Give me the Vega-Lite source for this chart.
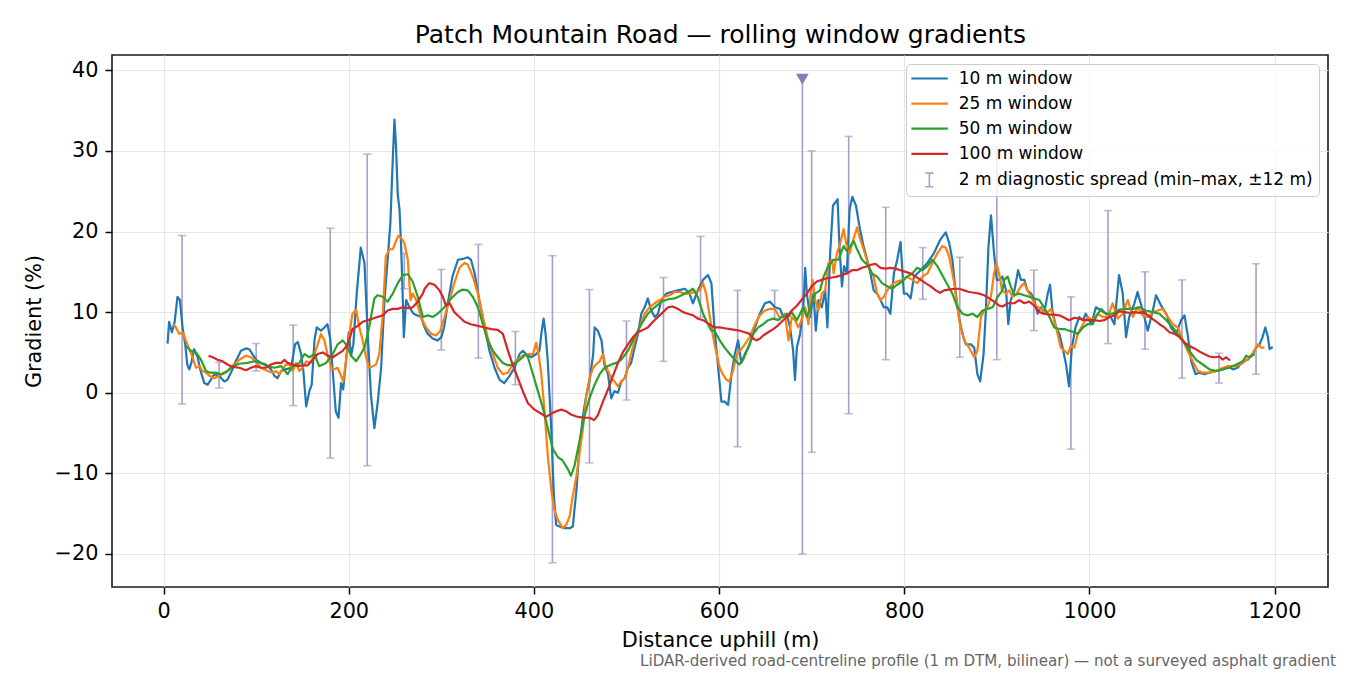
{
  "$schema": "https://vega.github.io/schema/vega-lite/v6.json",
  "width": 1216,
  "height": 532,
  "autosize": {"type": "none"},
  "padding": {"left": 112, "top": 55, "right": 22, "bottom": 88},
  "background": "white",
  "title": {
    "text": "LiDAR-derived road-centreline profile (1 m DTM, bilinear) — not a surveyed asphalt gradient",
    "orient": "bottom", "anchor": "end", "frame": "group", "dx": 8, "offset": 15,
    "baseline": "alphabetic", "font": "DejaVu Sans", "fontSize": 15.1, "fontWeight": "normal", "color": "#666666"
  },
  "config": {
    "font": "DejaVu Sans",
    "view": {"stroke": "#1a1a1a", "strokeWidth": 1.6},
    "axis": {
      "labelFont": "DejaVu Sans", "labelFontSize": 20.8, "labelColor": "#000000",
      "titleFont": "DejaVu Sans", "titleFontSize": 20.8, "titleFontWeight": "normal", "titleColor": "#000000",
      "tickColor": "#000000", "tickSize": 7, "tickWidth": 1.5, "labelPadding": 7,
      "gridColor": "#e6e6e6", "gridWidth": 1.2, "domain": false, "labelOverlap": false, "labelFlush": false
    },
    "legend": {
      "labelFont": "DejaVu Sans", "labelFontSize": 17, "labelColor": "#000000"
    }
  },
  "datasets": {
    "eb": [
      {"s":"e","d":20,"lo":-1.4,"hi":19.5},{"s":"e","d":60,"lo":0.6,"hi":3.8},{"s":"e","d":100,"lo":2.7,"hi":6.1},
      {"s":"e","d":140,"lo":-1.6,"hi":8.4},{"s":"e","d":180,"lo":-8.1,"hi":20.4},{"s":"e","d":220,"lo":-9.05,"hi":29.6},
      {"s":"e","d":260,"lo":12.9,"hi":17.3},{"s":"e","d":300,"lo":5.3,"hi":15.3},{"s":"e","d":340,"lo":4.3,"hi":18.4},
      {"s":"e","d":380,"lo":1.0,"hi":7.6},{"s":"e","d":420,"lo":-21.1,"hi":17.0},{"s":"e","d":460,"lo":-8.7,"hi":12.8},
      {"s":"e","d":500,"lo":-0.9,"hi":8.9},{"s":"e","d":540,"lo":3.9,"hi":14.3},{"s":"e","d":580,"lo":9.4,"hi":19.4},
      {"s":"e","d":620,"lo":-6.7,"hi":12.7},{"s":"e","d":660,"lo":9.2,"hi":12.7},{"s":"e","d":690,"lo":-20.0,"hi":38.9},
      {"s":"e","d":700,"lo":-7.4,"hi":30.0},{"s":"e","d":740,"lo":-2.6,"hi":31.8},{"s":"e","d":780,"lo":4.1,"hi":23.0},
      {"s":"e","d":820,"lo":11.6,"hi":18.0},{"s":"e","d":860,"lo":4.4,"hi":16.8},{"s":"e","d":900,"lo":4.1,"hi":30.5},
      {"s":"e","d":940,"lo":7.7,"hi":15.2},{"s":"e","d":980,"lo":-7.0,"hi":11.9},{"s":"e","d":1020,"lo":6.1,"hi":22.6},
      {"s":"e","d":1060,"lo":5.4,"hi":15.0},{"s":"e","d":1100,"lo":1.8,"hi":14.0},{"s":"e","d":1140,"lo":1.2,"hi":4.9},
      {"s":"e","d":1180,"lo":2.3,"hi":16.0}
    ],
    "spike": [{"d": 690, "g": 38.9}],
    "lines": [
      {"s":"a","d":4.3,"g":6.1},{"s":"a","d":6,"g":8.8},{"s":"a","d":9,"g":7.5},{"s":"a","d":12,"g":8.8},{"s":"a","d":15,"g":11.9},
      {"s":"a","d":17.7,"g":11.5},{"s":"a","d":20.5,"g":8.1},{"s":"a","d":23.4,"g":6.0},{"s":"a","d":25.6,"g":3.5},{"s":"a","d":27.7,"g":2.9},
      {"s":"a","d":30,"g":3.7},{"s":"a","d":33,"g":5.4},{"s":"a","d":36.8,"g":4.4},{"s":"a","d":40,"g":2.7},{"s":"a","d":44,"g":1.2},
      {"s":"a","d":47.6,"g":1.0},{"s":"a","d":51,"g":1.6},{"s":"a","d":54.8,"g":2.3},{"s":"a","d":60,"g":2.1},{"s":"a","d":65.6,"g":1.4},
      {"s":"a","d":69,"g":1.6},{"s":"a","d":72.8,"g":2.5},{"s":"a","d":78,"g":3.9},{"s":"a","d":83.6,"g":5.2},{"s":"a","d":89,"g":5.5},
      {"s":"a","d":92.6,"g":5.4},{"s":"a","d":96,"g":4.8},{"s":"a","d":99.8,"g":4.1},{"s":"a","d":105,"g":3.7},{"s":"a","d":110.6,"g":3.5},
      {"s":"a","d":116,"g":2.9},{"s":"a","d":119.6,"g":2.1},{"s":"a","d":123,"g":1.8},{"s":"a","d":127,"g":2.7},{"s":"a","d":132,"g":2.9},
      {"s":"a","d":137.7,"g":3.1},{"s":"a","d":142,"g":6.0},{"s":"a","d":145,"g":6.3},{"s":"a","d":148.5,"g":4.8},{"s":"a","d":151,"g":2.7},
      {"s":"a","d":154,"g":-1.7},{"s":"a","d":157.5,"g":0.2},{"s":"a","d":160,"g":1.0},{"s":"a","d":163,"g":6.5},{"s":"a","d":165.4,"g":8.1},
      {"s":"a","d":170,"g":7.7},{"s":"a","d":173.7,"g":8.1},{"s":"a","d":177,"g":8.5},{"s":"a","d":180,"g":6.7},{"s":"a","d":182.7,"g":2.7},
      {"s":"a","d":186,"g":-2.3},{"s":"a","d":189,"g":-3.1},{"s":"a","d":191.7,"g":1.2},{"s":"a","d":194,"g":0.4},{"s":"a","d":197,"g":3.9},
      {"s":"a","d":200,"g":7.5},{"s":"a","d":202.5,"g":4.6},{"s":"a","d":205,"g":6.0},{"s":"a","d":208.6,"g":12.3},{"s":"a","d":213,"g":18.0},
      {"s":"a","d":217,"g":16.1},{"s":"a","d":220.5,"g":7.3},{"s":"a","d":224,"g":-0.3},{"s":"a","d":227.7,"g":-4.4},{"s":"a","d":231,"g":-1.5},
      {"s":"a","d":235,"g":3.1},{"s":"a","d":238.6,"g":11.5},{"s":"a","d":242,"g":16.5},{"s":"a","d":245,"g":21.1},{"s":"a","d":247.6,"g":29.1},
      {"s":"a","d":249.4,"g":33.9},{"s":"a","d":251,"g":30.7},{"s":"a","d":253,"g":24.5},{"s":"a","d":254.8,"g":22.8},{"s":"a","d":256.6,"g":18.2},
      {"s":"a","d":258.4,"g":11.5},{"s":"a","d":259.5,"g":6.9},{"s":"a","d":262,"g":11.5},{"s":"a","d":266,"g":10.5},{"s":"a","d":270,"g":9.8},
      {"s":"a","d":278,"g":9.4},{"s":"a","d":282,"g":8.1},{"s":"a","d":285.4,"g":7.3},{"s":"a","d":291,"g":6.7},{"s":"a","d":296,"g":6.5},
      {"s":"a","d":300,"g":6.9},{"s":"a","d":303,"g":8.1},{"s":"a","d":307,"g":11.1},{"s":"a","d":312,"g":14.4},{"s":"a","d":318,"g":16.5},
      {"s":"a","d":323,"g":16.6},{"s":"a","d":328.6,"g":16.8},{"s":"a","d":332,"g":16.5},{"s":"a","d":336,"g":14.8},{"s":"a","d":341,"g":11.5},
      {"s":"a","d":346.7,"g":8.1},{"s":"a","d":352,"g":5.2},{"s":"a","d":357.5,"g":3.1},{"s":"a","d":363,"g":1.6},{"s":"a","d":368,"g":1.2},
      {"s":"a","d":373.7,"g":2.1},{"s":"a","d":379,"g":3.1},{"s":"a","d":384.5,"g":4.8},{"s":"a","d":388,"g":5.2},{"s":"a","d":391.7,"g":4.8},
      {"s":"a","d":397,"g":4.4},{"s":"a","d":402.5,"g":4.8},{"s":"a","d":406,"g":5.2},{"s":"a","d":408,"g":7.3},{"s":"a","d":410.5,"g":9.2},
      {"s":"a","d":412.6,"g":7.3},{"s":"a","d":415,"g":3.9},{"s":"a","d":418.7,"g":-4.4},{"s":"a","d":421.6,"g":-12.8},{"s":"a","d":424,"g":-16.4},
      {"s":"a","d":427.7,"g":-16.6},{"s":"a","d":433,"g":-16.8},{"s":"a","d":438.6,"g":-16.8},{"s":"a","d":442,"g":-16.6},{"s":"a","d":446,"g":-12.0},
      {"s":"a","d":449,"g":-7.0},{"s":"a","d":453,"g":-2.8},{"s":"a","d":456.6,"g":-0.3},{"s":"a","d":460,"g":1.4},{"s":"a","d":464,"g":4.8},
      {"s":"a","d":465.6,"g":8.1},{"s":"a","d":469,"g":7.7},{"s":"a","d":473,"g":6.5},{"s":"a","d":476,"g":3.5},{"s":"a","d":480,"g":2.3},
      {"s":"a","d":483.6,"g":-0.7},{"s":"a","d":487,"g":0.2},{"s":"a","d":490.8,"g":0.0},{"s":"a","d":494.4,"g":1.4},{"s":"a","d":498,"g":1.8},
      {"s":"a","d":501.6,"g":3.1},{"s":"a","d":505,"g":3.7},{"s":"a","d":508.8,"g":5.6},{"s":"a","d":512.4,"g":7.3},{"s":"a","d":516,"g":9.8},
      {"s":"a","d":519.6,"g":10.6},{"s":"a","d":523,"g":11.7},{"s":"a","d":526.8,"g":10.2},{"s":"a","d":530.5,"g":9.4},{"s":"a","d":534,"g":9.8},
      {"s":"a","d":537.7,"g":11.5},{"s":"a","d":543,"g":12.3},{"s":"a","d":548.5,"g":12.5},{"s":"a","d":555.7,"g":12.7},{"s":"a","d":563,"g":12.9},
      {"s":"a","d":568,"g":12.3},{"s":"a","d":571.8,"g":11.1},{"s":"a","d":577,"g":12.7},{"s":"a","d":582.6,"g":14.0},{"s":"a","d":588,"g":14.6},
      {"s":"a","d":591.7,"g":13.6},{"s":"a","d":595,"g":8.1},{"s":"a","d":599,"g":3.1},{"s":"a","d":602.5,"g":-1.1},{"s":"a","d":606,"g":-1.1},
      {"s":"a","d":609.8,"g":-1.5},{"s":"a","d":613.4,"g":2.3},{"s":"a","d":617,"g":4.8},{"s":"a","d":620.6,"g":6.5},{"s":"a","d":624,"g":3.7},
      {"s":"a","d":627.8,"g":4.8},{"s":"a","d":633,"g":6.0},{"s":"a","d":638.7,"g":8.1},{"s":"a","d":644,"g":9.8},{"s":"a","d":649.5,"g":11.1},
      {"s":"a","d":655,"g":11.3},{"s":"a","d":660.4,"g":10.6},{"s":"a","d":665.8,"g":10.4},{"s":"a","d":669.4,"g":9.4},{"s":"a","d":673,"g":9.8},
      {"s":"a","d":676.7,"g":8.1},{"s":"a","d":680,"g":5.2},{"s":"a","d":682,"g":1.6},{"s":"a","d":684,"g":5.6},{"s":"a","d":687.5,"g":7.3},
      {"s":"a","d":691,"g":10.6},{"s":"a","d":693,"g":15.5},{"s":"a","d":694.8,"g":12.3},{"s":"a","d":698.4,"g":9.4},{"s":"a","d":702,"g":12.3},
      {"s":"a","d":704.5,"g":7.7},{"s":"a","d":707.4,"g":11.5},{"s":"a","d":711,"g":10.6},{"s":"a","d":714.6,"g":12.7},{"s":"a","d":717,"g":8.1},
      {"s":"a","d":720,"g":17.3},{"s":"a","d":723,"g":23.2},{"s":"a","d":725.5,"g":23.6},{"s":"a","d":728,"g":24.0},{"s":"a","d":730,"g":18.2},
      {"s":"a","d":732.7,"g":13.2},{"s":"a","d":735,"g":15.7},{"s":"a","d":738,"g":14.8},{"s":"a","d":741,"g":22.8},{"s":"a","d":744,"g":24.3},
      {"s":"a","d":747.9,"g":23.2},{"s":"a","d":751.5,"g":20.7},{"s":"a","d":756,"g":18.2},{"s":"a","d":760,"g":16.5},{"s":"a","d":763.5,"g":14.8},
      {"s":"a","d":767,"g":12.7},{"s":"a","d":770.7,"g":12.3},{"s":"a","d":774.3,"g":11.5},{"s":"a","d":778,"g":10.6},{"s":"a","d":781.6,"g":10.6},
      {"s":"a","d":785,"g":9.8},{"s":"a","d":788.8,"g":14.8},{"s":"a","d":792.4,"g":16.5},{"s":"a","d":796,"g":18.7},{"s":"a","d":799.6,"g":12.3},
      {"s":"a","d":803,"g":12.3},{"s":"a","d":806.9,"g":11.7},{"s":"a","d":810.5,"g":14.4},{"s":"a","d":817.7,"g":15.2},{"s":"a","d":825,"g":16.1},
      {"s":"a","d":832,"g":17.3},{"s":"a","d":839,"g":19.0},{"s":"a","d":844.8,"g":19.9},{"s":"a","d":848.5,"g":18.6},{"s":"a","d":852,"g":16.5},
      {"s":"a","d":855.7,"g":12.3},{"s":"a","d":859,"g":9.4},{"s":"a","d":863,"g":7.3},{"s":"a","d":866.5,"g":6.0},{"s":"a","d":872,"g":6.0},
      {"s":"a","d":875.6,"g":5.6},{"s":"a","d":879,"g":2.3},{"s":"a","d":882,"g":1.4},{"s":"a","d":885.7,"g":4.8},{"s":"a","d":888,"g":9.8},
      {"s":"a","d":891,"g":18.2},{"s":"a","d":893.7,"g":22.0},{"s":"a","d":897,"g":17.3},{"s":"a","d":900,"g":14.0},{"s":"a","d":902.7,"g":14.0},
      {"s":"a","d":906,"g":14.4},{"s":"a","d":910,"g":12.7},{"s":"a","d":912.4,"g":8.5},{"s":"a","d":915,"g":11.5},{"s":"a","d":919,"g":12.7},
      {"s":"a","d":923,"g":15.2},{"s":"a","d":926,"g":14.0},{"s":"a","d":929.7,"g":14.0},{"s":"a","d":933,"g":12.7},{"s":"a","d":937,"g":12.3},
      {"s":"a","d":940.5,"g":11.5},{"s":"a","d":944,"g":9.8},{"s":"a","d":947.7,"g":10.6},{"s":"a","d":951,"g":9.8},{"s":"a","d":955,"g":12.3},
      {"s":"a","d":957.5,"g":13.4},{"s":"a","d":960,"g":10.2},{"s":"a","d":964,"g":8.1},{"s":"a","d":967.6,"g":7.3},{"s":"a","d":971,"g":5.6},
      {"s":"a","d":974.8,"g":3.5},{"s":"a","d":978,"g":0.8},{"s":"a","d":981,"g":5.6},{"s":"a","d":985,"g":8.1},{"s":"a","d":989,"g":9.4},
      {"s":"a","d":993,"g":9.0},{"s":"a","d":996,"g":9.8},{"s":"a","d":1002,"g":8.5},{"s":"a","d":1007,"g":10.6},{"s":"a","d":1012.6,"g":10.2},
      {"s":"a","d":1018,"g":9.8},{"s":"a","d":1023,"g":9.4},{"s":"a","d":1027,"g":8.5},{"s":"a","d":1032,"g":14.6},{"s":"a","d":1036,"g":12.3},
      {"s":"a","d":1039.6,"g":6.9},{"s":"a","d":1043,"g":9.4},{"s":"a","d":1048.6,"g":11.1},{"s":"a","d":1052,"g":12.5},{"s":"a","d":1057.6,"g":10.2},
      {"s":"a","d":1063,"g":7.7},{"s":"a","d":1068.5,"g":10.2},{"s":"a","d":1072,"g":12.1},{"s":"a","d":1077.5,"g":10.8},{"s":"a","d":1083,"g":9.8},
      {"s":"a","d":1088,"g":8.1},{"s":"a","d":1093.7,"g":7.3},{"s":"a","d":1099,"g":9.0},{"s":"a","d":1102.7,"g":9.6},{"s":"a","d":1106,"g":7.3},
      {"s":"a","d":1110,"g":3.9},{"s":"a","d":1114.6,"g":2.3},{"s":"a","d":1119,"g":2.5},{"s":"a","d":1124,"g":2.3},{"s":"a","d":1129.7,"g":2.5},
      {"s":"a","d":1137,"g":2.7},{"s":"a","d":1144,"g":2.9},{"s":"a","d":1149.5,"g":3.3},{"s":"a","d":1155,"g":2.9},{"s":"a","d":1160,"g":3.1},
      {"s":"a","d":1165.8,"g":3.9},{"s":"a","d":1171,"g":4.1},{"s":"a","d":1176.6,"g":4.8},{"s":"a","d":1180,"g":5.6},{"s":"a","d":1183.8,"g":6.0},
      {"s":"a","d":1187,"g":6.9},{"s":"a","d":1190,"g":8.1},{"s":"a","d":1192.8,"g":6.9},{"s":"a","d":1194.6,"g":5.4},{"s":"a","d":1198,"g":5.7},

      {"s":"b","d":10.8,"g":8.5},{"s":"b","d":13.3,"g":8.1},{"s":"b","d":17,"g":7.3},{"s":"b","d":20.5,"g":7.5},{"s":"b","d":24,"g":6.5},
      {"s":"b","d":28.5,"g":5.2},{"s":"b","d":31.4,"g":4.4},{"s":"b","d":35,"g":3.1},{"s":"b","d":39,"g":3.3},{"s":"b","d":42,"g":2.7},
      {"s":"b","d":45.8,"g":2.5},{"s":"b","d":49.4,"g":2.1},{"s":"b","d":54.8,"g":1.8},{"s":"b","d":60,"g":2.1},{"s":"b","d":67.4,"g":2.5},
      {"s":"b","d":74.6,"g":3.3},{"s":"b","d":81.8,"g":4.1},{"s":"b","d":89,"g":4.6},{"s":"b","d":94.4,"g":4.4},{"s":"b","d":99.8,"g":3.9},
      {"s":"b","d":105,"g":3.1},{"s":"b","d":112.4,"g":2.7},{"s":"b","d":117.8,"g":2.5},{"s":"b","d":121.4,"g":2.7},{"s":"b","d":125,"g":2.3},
      {"s":"b","d":128.6,"g":2.9},{"s":"b","d":132,"g":3.5},{"s":"b","d":135.9,"g":3.5},{"s":"b","d":139.5,"g":2.7},{"s":"b","d":143,"g":3.7},
      {"s":"b","d":146.7,"g":2.7},{"s":"b","d":150,"g":3.1},{"s":"b","d":154,"g":3.9},{"s":"b","d":159,"g":3.7},{"s":"b","d":163,"g":4.8},
      {"s":"b","d":166.5,"g":6.0},{"s":"b","d":170,"g":7.3},{"s":"b","d":173.7,"g":6.5},{"s":"b","d":177,"g":4.8},{"s":"b","d":181,"g":3.1},
      {"s":"b","d":184.5,"g":2.9},{"s":"b","d":188,"g":3.1},{"s":"b","d":191.7,"g":2.1},{"s":"b","d":194,"g":1.4},{"s":"b","d":197,"g":3.9},
      {"s":"b","d":200.7,"g":7.3},{"s":"b","d":204,"g":9.8},{"s":"b","d":208,"g":10.3},{"s":"b","d":211.5,"g":8.1},{"s":"b","d":215,"g":6.5},
      {"s":"b","d":218.7,"g":4.4},{"s":"b","d":222,"g":3.1},{"s":"b","d":226,"g":3.3},{"s":"b","d":229.5,"g":3.5},{"s":"b","d":233,"g":4.8},
      {"s":"b","d":236.8,"g":9.8},{"s":"b","d":240,"g":16.9},{"s":"b","d":244,"g":17.8},{"s":"b","d":247.6,"g":17.8},{"s":"b","d":251,"g":18.8},
      {"s":"b","d":253.7,"g":19.5},{"s":"b","d":256.6,"g":19.2},{"s":"b","d":260,"g":18.6},{"s":"b","d":263.8,"g":16.5},{"s":"b","d":266.7,"g":11.5},
      {"s":"b","d":269,"g":12.3},{"s":"b","d":272.8,"g":11.5},{"s":"b","d":278,"g":9.4},{"s":"b","d":283.6,"g":8.1},{"s":"b","d":289,"g":7.3},
      {"s":"b","d":294.4,"g":7.1},{"s":"b","d":299,"g":7.7},{"s":"b","d":303.4,"g":9.4},{"s":"b","d":309,"g":11.5},{"s":"b","d":314,"g":13.6},
      {"s":"b","d":319.6,"g":15.5},{"s":"b","d":325,"g":16.1},{"s":"b","d":328.6,"g":15.9},{"s":"b","d":334,"g":14.4},{"s":"b","d":339.5,"g":12.3},
      {"s":"b","d":344.9,"g":9.4},{"s":"b","d":350,"g":6.9},{"s":"b","d":355.7,"g":4.8},{"s":"b","d":361,"g":3.1},{"s":"b","d":366.5,"g":2.3},
      {"s":"b","d":372,"g":2.5},{"s":"b","d":377,"g":3.5},{"s":"b","d":382.7,"g":4.1},{"s":"b","d":388,"g":4.6},{"s":"b","d":393.5,"g":4.8},
      {"s":"b","d":399,"g":4.8},{"s":"b","d":402.5,"g":6.2},{"s":"b","d":405,"g":4.8},{"s":"b","d":408,"g":2.3},{"s":"b","d":411.5,"g":-2.3},
      {"s":"b","d":415,"g":-7.8},{"s":"b","d":418.7,"g":-12.0},{"s":"b","d":422,"g":-14.5},{"s":"b","d":426,"g":-15.8},{"s":"b","d":431,"g":-16.8},
      {"s":"b","d":435,"g":-16.4},{"s":"b","d":438.6,"g":-15.3},{"s":"b","d":442,"g":-12.8},{"s":"b","d":446,"g":-10.3},{"s":"b","d":449,"g":-7.8},
      {"s":"b","d":453,"g":-4.4},{"s":"b","d":456.6,"g":-0.3},{"s":"b","d":460,"g":1.8},{"s":"b","d":464,"g":3.1},{"s":"b","d":467,"g":3.5},
      {"s":"b","d":471,"g":3.9},{"s":"b","d":474.6,"g":4.8},{"s":"b","d":477,"g":3.5},{"s":"b","d":480,"g":2.7},{"s":"b","d":483.6,"g":1.8},
      {"s":"b","d":487,"g":1.4},{"s":"b","d":490.8,"g":0.8},{"s":"b","d":494.4,"g":1.4},{"s":"b","d":498,"g":1.8},{"s":"b","d":501.6,"g":3.1},
      {"s":"b","d":505,"g":4.8},{"s":"b","d":508.8,"g":6.5},{"s":"b","d":514,"g":8.1},{"s":"b","d":519.6,"g":9.8},{"s":"b","d":525,"g":10.6},
      {"s":"b","d":530.5,"g":11.1},{"s":"b","d":535.9,"g":11.5},{"s":"b","d":541,"g":11.9},{"s":"b","d":546.7,"g":12.1},{"s":"b","d":552,"g":12.5},
      {"s":"b","d":557.5,"g":12.5},{"s":"b","d":563,"g":12.3},{"s":"b","d":568,"g":12.3},{"s":"b","d":573.6,"g":12.5},{"s":"b","d":579,"g":12.7},
      {"s":"b","d":582.6,"g":13.6},{"s":"b","d":586,"g":12.3},{"s":"b","d":590,"g":9.4},{"s":"b","d":595,"g":6.0},{"s":"b","d":600.7,"g":3.1},
      {"s":"b","d":604,"g":2.3},{"s":"b","d":608,"g":1.6},{"s":"b","d":611,"g":1.4},{"s":"b","d":615,"g":2.7},{"s":"b","d":619,"g":4.8},
      {"s":"b","d":624,"g":5.4},{"s":"b","d":627.8,"g":6.0},{"s":"b","d":633,"g":6.9},{"s":"b","d":638.7,"g":8.5},{"s":"b","d":644,"g":9.6},
      {"s":"b","d":649.5,"g":10.2},{"s":"b","d":655,"g":10.4},{"s":"b","d":660.4,"g":10.4},{"s":"b","d":665.8,"g":9.2},{"s":"b","d":671,"g":9.8},
      {"s":"b","d":675,"g":6.5},{"s":"b","d":678.5,"g":9.4},{"s":"b","d":682,"g":9.0},{"s":"b","d":685.7,"g":8.1},{"s":"b","d":689,"g":9.0},
      {"s":"b","d":693,"g":10.6},{"s":"b","d":696.6,"g":8.5},{"s":"b","d":699,"g":12.3},{"s":"b","d":701,"g":14.0},{"s":"b","d":703.8,"g":11.5},
      {"s":"b","d":707.4,"g":10.2},{"s":"b","d":711,"g":12.3},{"s":"b","d":714.6,"g":12.7},{"s":"b","d":718,"g":16.1},{"s":"b","d":722,"g":16.5},
      {"s":"b","d":723.7,"g":14.8},{"s":"b","d":727.3,"g":17.3},{"s":"b","d":731,"g":18.6},{"s":"b","d":734.5,"g":20.3},{"s":"b","d":737.4,"g":18.4},
      {"s":"b","d":741,"g":17.3},{"s":"b","d":745,"g":19.0},{"s":"b","d":749,"g":20.5},{"s":"b","d":752.6,"g":19.0},{"s":"b","d":756,"g":17.8},
      {"s":"b","d":761.7,"g":15.7},{"s":"b","d":767,"g":14.4},{"s":"b","d":770.7,"g":12.3},{"s":"b","d":774.3,"g":11.5},{"s":"b","d":778,"g":11.9},
      {"s":"b","d":781.6,"g":12.7},{"s":"b","d":785,"g":13.2},{"s":"b","d":788.8,"g":13.6},{"s":"b","d":792.4,"g":13.8},{"s":"b","d":797.8,"g":14.0},
      {"s":"b","d":803,"g":14.4},{"s":"b","d":808.7,"g":14.0},{"s":"b","d":814,"g":13.6},{"s":"b","d":819.5,"g":14.4},{"s":"b","d":825,"g":14.8},
      {"s":"b","d":830.4,"g":16.1},{"s":"b","d":835.8,"g":17.3},{"s":"b","d":841,"g":18.2},{"s":"b","d":844.8,"g":18.0},{"s":"b","d":848.5,"g":16.9},
      {"s":"b","d":854,"g":13.6},{"s":"b","d":859.3,"g":9.0},{"s":"b","d":864.7,"g":6.5},{"s":"b","d":870,"g":5.6},{"s":"b","d":875.6,"g":4.4},
      {"s":"b","d":879,"g":5.2},{"s":"b","d":882.8,"g":9.4},{"s":"b","d":886.4,"g":10.2},{"s":"b","d":890,"g":10.6},{"s":"b","d":893.7,"g":12.0},
      {"s":"b","d":897,"g":14.8},{"s":"b","d":899.5,"g":16.1},{"s":"b","d":902.5,"g":14.8},{"s":"b","d":905.6,"g":12.7},{"s":"b","d":910,"g":12.3},
      {"s":"b","d":913.5,"g":12.7},{"s":"b","d":917,"g":11.9},{"s":"b","d":921.4,"g":12.3},{"s":"b","d":926,"g":13.2},{"s":"b","d":929.7,"g":13.6},
      {"s":"b","d":933,"g":12.7},{"s":"b","d":937,"g":11.9},{"s":"b","d":942,"g":10.8},{"s":"b","d":947.7,"g":10.4},{"s":"b","d":953,"g":9.8},
      {"s":"b","d":958.6,"g":10.4},{"s":"b","d":964,"g":8.1},{"s":"b","d":969,"g":5.6},{"s":"b","d":973,"g":5.2},{"s":"b","d":976.6,"g":4.8},
      {"s":"b","d":980,"g":5.8},{"s":"b","d":983.8,"g":5.6},{"s":"b","d":987.4,"g":7.3},{"s":"b","d":993,"g":8.5},{"s":"b","d":998,"g":9.4},
      {"s":"b","d":1003.6,"g":9.0},{"s":"b","d":1009,"g":9.8},{"s":"b","d":1014.4,"g":9.4},{"s":"b","d":1020,"g":9.4},{"s":"b","d":1025,"g":11.1},
      {"s":"b","d":1030.6,"g":9.2},{"s":"b","d":1036,"g":9.8},{"s":"b","d":1041.4,"g":11.5},{"s":"b","d":1047,"g":9.4},{"s":"b","d":1052,"g":10.6},
      {"s":"b","d":1057.6,"g":9.6},{"s":"b","d":1063,"g":9.4},{"s":"b","d":1068.5,"g":10.0},{"s":"b","d":1074,"g":10.2},{"s":"b","d":1079,"g":10.4},
      {"s":"b","d":1084.7,"g":9.4},{"s":"b","d":1090,"g":8.5},{"s":"b","d":1095.5,"g":8.1},{"s":"b","d":1101,"g":6.5},{"s":"b","d":1106,"g":5.2},
      {"s":"b","d":1111.7,"g":3.9},{"s":"b","d":1117,"g":2.7},{"s":"b","d":1122.5,"g":2.5},{"s":"b","d":1129.7,"g":2.5},{"s":"b","d":1137,"g":2.7},
      {"s":"b","d":1144,"g":3.1},{"s":"b","d":1151,"g":3.3},{"s":"b","d":1158.6,"g":3.3},{"s":"b","d":1165.8,"g":3.7},{"s":"b","d":1173,"g":4.4},
      {"s":"b","d":1178,"g":5.2},{"s":"b","d":1182,"g":6.0},{"s":"b","d":1185.6,"g":5.6},{"s":"b","d":1189,"g":5.6},

      {"s":"c","d":24,"g":5.8},{"s":"c","d":29.5,"g":5.2},{"s":"c","d":35,"g":5.0},{"s":"c","d":40.4,"g":4.1},{"s":"c","d":45.8,"g":2.7},
      {"s":"c","d":49.4,"g":2.5},{"s":"c","d":56.6,"g":2.5},{"s":"c","d":62,"g":2.3},{"s":"c","d":69,"g":2.7},{"s":"c","d":74.6,"g":3.3},
      {"s":"c","d":81.8,"g":3.6},{"s":"c","d":90.8,"g":3.7},{"s":"c","d":98,"g":3.9},{"s":"c","d":105,"g":3.7},{"s":"c","d":112.4,"g":3.3},
      {"s":"c","d":119.6,"g":3.1},{"s":"c","d":127,"g":3.3},{"s":"c","d":134,"g":2.3},{"s":"c","d":139.5,"g":3.3},{"s":"c","d":146.7,"g":3.7},
      {"s":"c","d":152,"g":4.8},{"s":"c","d":157.5,"g":4.4},{"s":"c","d":163,"g":4.8},{"s":"c","d":168,"g":3.3},{"s":"c","d":175.5,"g":3.7},
      {"s":"c","d":182.7,"g":4.8},{"s":"c","d":188,"g":6.0},{"s":"c","d":193.5,"g":6.5},{"s":"c","d":197,"g":6.0},{"s":"c","d":202.5,"g":4.6},
      {"s":"c","d":208,"g":3.9},{"s":"c","d":213,"g":4.8},{"s":"c","d":217,"g":5.6},{"s":"c","d":222,"g":8.1},{"s":"c","d":227.7,"g":11.7},
      {"s":"c","d":231,"g":12.1},{"s":"c","d":236.8,"g":11.9},{"s":"c","d":242,"g":11.3},{"s":"c","d":247.6,"g":12.3},{"s":"c","d":253,"g":13.6},
      {"s":"c","d":258.4,"g":14.6},{"s":"c","d":264,"g":14.7},{"s":"c","d":269,"g":13.8},{"s":"c","d":274.6,"g":11.9},{"s":"c","d":280,"g":9.4},
      {"s":"c","d":285.4,"g":9.6},{"s":"c","d":291,"g":9.4},{"s":"c","d":296,"g":9.8},{"s":"c","d":303.4,"g":10.6},{"s":"c","d":310.6,"g":11.7},
      {"s":"c","d":318,"g":12.5},{"s":"c","d":323,"g":12.8},{"s":"c","d":328.6,"g":12.7},{"s":"c","d":334,"g":11.9},{"s":"c","d":339.5,"g":10.6},
      {"s":"c","d":344.9,"g":8.5},{"s":"c","d":350,"g":6.5},{"s":"c","d":355.7,"g":5.2},{"s":"c","d":361,"g":4.4},{"s":"c","d":366.5,"g":3.7},
      {"s":"c","d":372,"g":3.4},{"s":"c","d":377,"g":3.5},{"s":"c","d":382.7,"g":3.9},{"s":"c","d":388,"g":4.4},{"s":"c","d":390.6,"g":4.8},
      {"s":"c","d":393.5,"g":4.4},{"s":"c","d":399,"g":2.3},{"s":"c","d":404.3,"g":0.2},{"s":"c","d":409.7,"g":-1.9},{"s":"c","d":415,"g":-4.4},
      {"s":"c","d":420.5,"g":-7.0},{"s":"c","d":426,"g":-8.0},{"s":"c","d":431,"g":-8.4},{"s":"c","d":436.8,"g":-9.5},{"s":"c","d":440,"g":-10.3},
      {"s":"c","d":444,"g":-9.0},{"s":"c","d":449,"g":-6.1},{"s":"c","d":454.8,"g":-2.8},{"s":"c","d":460,"g":-0.7},{"s":"c","d":465.6,"g":1.0},
      {"s":"c","d":471,"g":2.3},{"s":"c","d":476.4,"g":3.1},{"s":"c","d":483.6,"g":3.5},{"s":"c","d":489,"g":3.7},{"s":"c","d":494.4,"g":4.1},
      {"s":"c","d":501.6,"g":5.2},{"s":"c","d":508.8,"g":6.9},{"s":"c","d":516,"g":8.5},{"s":"c","d":523,"g":9.8},{"s":"c","d":530.5,"g":10.6},
      {"s":"c","d":537.7,"g":11.3},{"s":"c","d":545,"g":11.6},{"s":"c","d":552,"g":11.7},{"s":"c","d":559.5,"g":12.1},{"s":"c","d":566.5,"g":12.5},
      {"s":"c","d":571.9,"g":12.9},{"s":"c","d":577,"g":11.9},{"s":"c","d":582.7,"g":9.8},{"s":"c","d":588,"g":8.5},{"s":"c","d":591.7,"g":7.7},
      {"s":"c","d":595,"g":7.7},{"s":"c","d":600.7,"g":6.5},{"s":"c","d":606,"g":5.6},{"s":"c","d":611.6,"g":4.8},{"s":"c","d":617,"g":4.1},
      {"s":"c","d":621.7,"g":3.5},{"s":"c","d":626,"g":4.1},{"s":"c","d":631.5,"g":5.6},{"s":"c","d":637,"g":7.3},{"s":"c","d":642.3,"g":8.1},
      {"s":"c","d":647.7,"g":8.5},{"s":"c","d":653,"g":9.0},{"s":"c","d":658.6,"g":9.2},{"s":"c","d":664,"g":9.0},{"s":"c","d":669.4,"g":9.6},
      {"s":"c","d":675,"g":9.4},{"s":"c","d":678.5,"g":10.0},{"s":"c","d":684,"g":9.0},{"s":"c","d":687.5,"g":9.8},{"s":"c","d":691,"g":10.6},
      {"s":"c","d":694.8,"g":9.4},{"s":"c","d":698.4,"g":10.6},{"s":"c","d":703.8,"g":12.3},{"s":"c","d":709,"g":12.7},{"s":"c","d":712.8,"g":14.4},
      {"s":"c","d":718,"g":15.7},{"s":"c","d":723.7,"g":16.5},{"s":"c","d":729,"g":16.5},{"s":"c","d":734.5,"g":18.2},{"s":"c","d":738,"g":17.6},
      {"s":"c","d":741.8,"g":18.2},{"s":"c","d":745.4,"g":18.8},{"s":"c","d":749,"g":17.8},{"s":"c","d":754.4,"g":16.5},{"s":"c","d":760,"g":15.9},
      {"s":"c","d":765,"g":14.8},{"s":"c","d":770.7,"g":14.4},{"s":"c","d":776,"g":13.6},{"s":"c","d":781.6,"g":13.2},{"s":"c","d":787,"g":12.9},
      {"s":"c","d":792.4,"g":13.4},{"s":"c","d":797.8,"g":13.8},{"s":"c","d":803,"g":14.4},{"s":"c","d":808.7,"g":14.8},{"s":"c","d":814,"g":15.5},
      {"s":"c","d":819.5,"g":15.2},{"s":"c","d":825,"g":15.7},{"s":"c","d":830.4,"g":16.5},{"s":"c","d":835.8,"g":15.7},{"s":"c","d":841,"g":14.6},
      {"s":"c","d":846.7,"g":13.4},{"s":"c","d":852,"g":12.3},{"s":"c","d":857.5,"g":10.6},{"s":"c","d":863,"g":9.8},{"s":"c","d":868.4,"g":9.6},
      {"s":"c","d":873.8,"g":9.8},{"s":"c","d":879,"g":9.4},{"s":"c","d":884.6,"g":10.2},{"s":"c","d":890,"g":10.4},{"s":"c","d":895.5,"g":10.6},
      {"s":"c","d":901,"g":11.9},{"s":"c","d":906,"g":12.7},{"s":"c","d":908,"g":14.0},{"s":"c","d":911.7,"g":14.4},{"s":"c","d":915,"g":13.2},
      {"s":"c","d":919,"g":12.1},{"s":"c","d":924,"g":12.3},{"s":"c","d":929.7,"g":12.1},{"s":"c","d":935,"g":11.9},{"s":"c","d":940.5,"g":11.7},
      {"s":"c","d":946,"g":11.5},{"s":"c","d":951,"g":10.6},{"s":"c","d":956.8,"g":9.4},{"s":"c","d":962,"g":8.1},{"s":"c","d":967.6,"g":7.9},
      {"s":"c","d":973,"g":7.9},{"s":"c","d":978,"g":7.7},{"s":"c","d":983.8,"g":7.5},{"s":"c","d":987.4,"g":7.3},{"s":"c","d":993,"g":8.1},
      {"s":"c","d":998,"g":8.5},{"s":"c","d":1003.6,"g":8.5},{"s":"c","d":1007,"g":9.4},{"s":"c","d":1012.6,"g":10.4},{"s":"c","d":1018,"g":9.8},
      {"s":"c","d":1025,"g":9.8},{"s":"c","d":1032,"g":10.3},{"s":"c","d":1039.6,"g":10.4},{"s":"c","d":1047,"g":10.4},{"s":"c","d":1054,"g":10.6},
      {"s":"c","d":1061,"g":10.2},{"s":"c","d":1068.5,"g":10.0},{"s":"c","d":1075.7,"g":9.8},{"s":"c","d":1083,"g":9.0},{"s":"c","d":1090,"g":8.1},
      {"s":"c","d":1095.5,"g":7.3},{"s":"c","d":1101,"g":6.5},{"s":"c","d":1108,"g":5.2},{"s":"c","d":1115,"g":4.1},{"s":"c","d":1122.5,"g":3.5},
      {"s":"c","d":1129.7,"g":2.9},{"s":"c","d":1137,"g":2.7},{"s":"c","d":1144,"g":2.9},{"s":"c","d":1151,"g":3.1},{"s":"c","d":1158.6,"g":3.5},
      {"s":"c","d":1165.8,"g":3.9},{"s":"c","d":1169.4,"g":4.6},{"s":"c","d":1173,"g":4.4},{"s":"c","d":1178.4,"g":4.8},

      {"s":"d","d":48.6,"g":4.6},{"s":"d","d":53,"g":4.4},{"s":"d","d":58.4,"g":4.1},{"s":"d","d":63.8,"g":3.9},{"s":"d","d":69,"g":3.5},
      {"s":"d","d":74.6,"g":3.2},{"s":"d","d":81.8,"g":3.1},{"s":"d","d":89,"g":2.8},{"s":"d","d":94.4,"g":3.1},{"s":"d","d":99.8,"g":3.3},
      {"s":"d","d":105,"g":3.1},{"s":"d","d":110.6,"g":3.1},{"s":"d","d":116,"g":3.5},{"s":"d","d":121.4,"g":3.7},{"s":"d","d":127,"g":3.7},
      {"s":"d","d":130.5,"g":4.1},{"s":"d","d":134,"g":3.7},{"s":"d","d":139.5,"g":3.5},{"s":"d","d":145,"g":3.3},{"s":"d","d":150,"g":3.4},
      {"s":"d","d":155.7,"g":3.4},{"s":"d","d":161,"g":4.1},{"s":"d","d":166.5,"g":4.8},{"s":"d","d":172,"g":5.0},{"s":"d","d":177,"g":4.6},
      {"s":"d","d":182.7,"g":4.4},{"s":"d","d":188,"g":4.8},{"s":"d","d":193.5,"g":5.2},{"s":"d","d":199,"g":6.0},{"s":"d","d":204,"g":7.9},
      {"s":"d","d":209.7,"g":8.3},{"s":"d","d":215,"g":8.8},{"s":"d","d":220.5,"g":9.0},{"s":"d","d":226,"g":9.2},{"s":"d","d":231,"g":9.4},
      {"s":"d","d":236.8,"g":9.6},{"s":"d","d":242,"g":10.2},{"s":"d","d":247.6,"g":10.4},{"s":"d","d":253,"g":10.4},{"s":"d","d":258.4,"g":10.6},
      {"s":"d","d":264,"g":10.5},{"s":"d","d":269,"g":10.6},{"s":"d","d":274.6,"g":11.3},{"s":"d","d":280,"g":12.3},{"s":"d","d":282,"g":12.9},
      {"s":"d","d":287,"g":13.6},{"s":"d","d":292.6,"g":13.4},{"s":"d","d":298,"g":12.7},{"s":"d","d":301.6,"g":11.9},{"s":"d","d":305,"g":10.8},
      {"s":"d","d":309,"g":11.1},{"s":"d","d":314,"g":10.0},{"s":"d","d":319.6,"g":9.4},{"s":"d","d":325,"g":8.8},{"s":"d","d":332,"g":8.5},
      {"s":"d","d":339.5,"g":8.3},{"s":"d","d":346.7,"g":8.1},{"s":"d","d":354,"g":7.9},{"s":"d","d":361,"g":7.8},{"s":"d","d":366.5,"g":7.3},
      {"s":"d","d":372,"g":5.2},{"s":"d","d":377,"g":3.5},{"s":"d","d":382.7,"g":1.8},{"s":"d","d":388,"g":0.2},{"s":"d","d":393.5,"g":-1.3},
      {"s":"d","d":400.7,"g":-2.1},{"s":"d","d":408,"g":-2.6},{"s":"d","d":413,"g":-3.0},{"s":"d","d":418.7,"g":-2.6},{"s":"d","d":424,"g":-2.3},
      {"s":"d","d":429.5,"g":-2.1},{"s":"d","d":435,"g":-2.3},{"s":"d","d":440,"g":-2.7},{"s":"d","d":447.6,"g":-3.0},{"s":"d","d":454.8,"g":-3.1},
      {"s":"d","d":460,"g":-3.1},{"s":"d","d":465,"g":-3.4},{"s":"d","d":469,"g":-2.8},{"s":"d","d":474.6,"g":-1.1},{"s":"d","d":480,"g":0.4},
      {"s":"d","d":485.4,"g":2.1},{"s":"d","d":490.8,"g":3.7},{"s":"d","d":496,"g":5.0},{"s":"d","d":501.6,"g":6.0},{"s":"d","d":507,"g":6.9},
      {"s":"d","d":512.4,"g":7.5},{"s":"d","d":518,"g":7.8},{"s":"d","d":523,"g":8.1},{"s":"d","d":528.6,"g":8.8},{"s":"d","d":534,"g":9.4},
      {"s":"d","d":539.5,"g":10.0},{"s":"d","d":545,"g":10.6},{"s":"d","d":550,"g":10.7},{"s":"d","d":555.7,"g":10.4},{"s":"d","d":561,"g":10.0},
      {"s":"d","d":566.5,"g":9.8},{"s":"d","d":572,"g":9.6},{"s":"d","d":577,"g":9.2},{"s":"d","d":582.7,"g":9.0},{"s":"d","d":588,"g":8.6},
      {"s":"d","d":595,"g":8.1},{"s":"d","d":600.7,"g":8.1},{"s":"d","d":606,"g":8.0},{"s":"d","d":611.6,"g":7.9},{"s":"d","d":617,"g":7.8},
      {"s":"d","d":622.4,"g":7.7},{"s":"d","d":627.8,"g":7.5},{"s":"d","d":633,"g":7.3},{"s":"d","d":637,"g":6.7},{"s":"d","d":640.5,"g":6.5},
      {"s":"d","d":644,"g":6.7},{"s":"d","d":647.7,"g":7.1},{"s":"d","d":653,"g":7.5},{"s":"d","d":658.6,"g":7.9},{"s":"d","d":663,"g":8.3},
      {"s":"d","d":667.6,"g":8.8},{"s":"d","d":673,"g":9.4},{"s":"d","d":678.5,"g":10.2},{"s":"d","d":684,"g":10.8},{"s":"d","d":689,"g":11.5},
      {"s":"d","d":694.8,"g":12.3},{"s":"d","d":700,"g":13.2},{"s":"d","d":705.6,"g":13.8},{"s":"d","d":711,"g":14.0},{"s":"d","d":716.5,"g":14.2},
      {"s":"d","d":722,"g":14.3},{"s":"d","d":727.3,"g":14.4},{"s":"d","d":732.7,"g":14.6},{"s":"d","d":738,"g":14.8},{"s":"d","d":743.6,"g":15.2},
      {"s":"d","d":749,"g":15.2},{"s":"d","d":754.4,"g":15.5},{"s":"d","d":760,"g":15.7},{"s":"d","d":765,"g":15.9},{"s":"d","d":769,"g":16.0},
      {"s":"d","d":774.3,"g":15.5},{"s":"d","d":779.7,"g":15.4},{"s":"d","d":785,"g":15.5},{"s":"d","d":790.6,"g":15.4},{"s":"d","d":796,"g":15.2},
      {"s":"d","d":801.4,"g":15.0},{"s":"d","d":807,"g":14.8},{"s":"d","d":812.3,"g":14.4},{"s":"d","d":817.7,"g":14.0},{"s":"d","d":823,"g":13.6},
      {"s":"d","d":828.6,"g":13.2},{"s":"d","d":834,"g":12.7},{"s":"d","d":838.7,"g":12.4},{"s":"d","d":843,"g":12.7},{"s":"d","d":848.5,"g":12.8},
      {"s":"d","d":854,"g":12.9},{"s":"d","d":859.3,"g":12.9},{"s":"d","d":864.7,"g":12.7},{"s":"d","d":870,"g":12.5},{"s":"d","d":875.6,"g":12.4},
      {"s":"d","d":881,"g":12.3},{"s":"d","d":886.4,"g":12.1},{"s":"d","d":891.9,"g":11.7},{"s":"d","d":897,"g":11.3},{"s":"d","d":902.7,"g":10.8},
      {"s":"d","d":906.3,"g":10.7},{"s":"d","d":911.7,"g":11.1},{"s":"d","d":919,"g":11.1},{"s":"d","d":924,"g":11.5},{"s":"d","d":929.7,"g":11.1},
      {"s":"d","d":935,"g":11.3},{"s":"d","d":940.5,"g":10.8},{"s":"d","d":946,"g":10.0},{"s":"d","d":951,"g":9.8},{"s":"d","d":956.8,"g":9.7},
      {"s":"d","d":962,"g":9.7},{"s":"d","d":967.6,"g":9.6},{"s":"d","d":973,"g":9.3},{"s":"d","d":978,"g":9.0},{"s":"d","d":983.8,"g":9.3},
      {"s":"d","d":989,"g":9.2},{"s":"d","d":994.6,"g":9.0},{"s":"d","d":1000,"g":9.0},{"s":"d","d":1005.4,"g":9.0},{"s":"d","d":1011,"g":8.9},
      {"s":"d","d":1016,"g":9.0},{"s":"d","d":1021.6,"g":9.4},{"s":"d","d":1027,"g":9.6},{"s":"d","d":1032,"g":10.1},{"s":"d","d":1038,"g":10.0},
      {"s":"d","d":1043,"g":9.9},{"s":"d","d":1048.6,"g":10.0},{"s":"d","d":1054,"g":9.9},{"s":"d","d":1059.5,"g":10.0},{"s":"d","d":1065,"g":9.4},
      {"s":"d","d":1070,"g":9.0},{"s":"d","d":1075.7,"g":8.5},{"s":"d","d":1081,"g":8.1},{"s":"d","d":1086.5,"g":7.5},{"s":"d","d":1092,"g":7.3},
      {"s":"d","d":1097.3,"g":6.9},{"s":"d","d":1102.7,"g":6.2},{"s":"d","d":1108,"g":5.8},{"s":"d","d":1113.5,"g":5.5},{"s":"d","d":1119,"g":5.1},
      {"s":"d","d":1124,"g":4.8},{"s":"d","d":1129.7,"g":4.5},{"s":"d","d":1135,"g":4.4},{"s":"d","d":1140.5,"g":4.5},{"s":"d","d":1144,"g":4.1},
      {"s":"d","d":1147.7,"g":4.4},{"s":"d","d":1152,"g":4.0}
    ]
  },
  "resolve": {"axis": {"x": "independent", "y": "independent"}},
  "layer": [
    {
      "data": {"name": "eb"},
      "mark": {"type": "rule", "strokeWidth": 1.6},
      "encoding": {
        "x": {"field": "d", "type": "quantitative", "scale": {"domain": [-55.7, 1257.7], "nice": false, "zero": false},
              "axis": {"title": "Distance uphill (m)", "values": [0, 200, 400, 600, 800, 1000, 1200], "format": "d", "grid": true, "titlePadding": 10}},
        "y": {"field": "lo", "type": "quantitative", "scale": {"domain": [-24.1, 41.9], "nice": false, "zero": false},
              "axis": {"title": "Gradient (%)", "values": [-20, -10, 0, 10, 20, 30, 40], "format": "d", "grid": true, "titlePadding": 10}},
        "y2": {"field": "hi"},
        "color": {
          "field": "s", "type": "nominal",
          "scale": {"domain": ["a", "b", "c", "d", "e"], "range": ["#1f77b4", "#ff7f0e", "#2ca02c", "#d62728", "#a99dc9"]},
          "legend": {
            "title": null, "orient": "top-right", "offset": 9, "padding": 6, "rowPadding": 7.1,
            "labelOffset": 29.8, "labelLimit": 600, "symbolSize": 256, "symbolStrokeWidth": 2.2,
            "strokeColor": "#cccccc", "fillColor": "rgba(255,255,255,0.8)", "cornerRadius": 4,
            "labelExpr": "datum.label == 'a' ? '10 m window' : datum.label == 'b' ? '25 m window' : datum.label == 'c' ? '50 m window' : datum.label == 'd' ? '100 m window' : '2 m diagnostic spread (min–max, ±12 m)'",
            "encode": {"symbols": {"update": {
              "shape": {"signal": "datum.value == 'e' ? 'M1.11,-0.85V0.85M0.61,-0.85H1.61M0.61,0.85H1.61' : 'M-1.14,0H3.42'"},
              "strokeWidth": {"signal": "datum.value == 'e' ? 1.6 : 2.2"},
              "fill": {"value": "transparent"}
            }}}
          }
        }
      }
    },
    {
      "data": {"name": "eb"},
      "mark": {"type": "tick", "orient": "horizontal", "size": 8, "thickness": 1.6},
      "encoding": {
        "x": {"field": "d", "type": "quantitative", "scale": {"domain": [-55.7, 1257.7], "nice": false, "zero": false}, "axis": null},
        "y": {"field": "lo", "type": "quantitative", "scale": {"domain": [-24.1, 41.9], "nice": false, "zero": false}, "axis": null},
        "color": {"field": "s", "type": "nominal", "scale": {"domain": ["a", "b", "c", "d", "e"], "range": ["#1f77b4", "#ff7f0e", "#2ca02c", "#d62728", "#a99dc9"]}, "legend": null}
      }
    },
    {
      "data": {"name": "eb"},
      "transform": [{"filter": "datum.d != 690"}],
      "mark": {"type": "tick", "orient": "horizontal", "size": 8, "thickness": 1.6},
      "encoding": {
        "x": {"field": "d", "type": "quantitative", "scale": {"domain": [-55.7, 1257.7], "nice": false, "zero": false}, "axis": null},
        "y": {"field": "hi", "type": "quantitative", "scale": {"domain": [-24.1, 41.9], "nice": false, "zero": false}, "axis": null},
        "color": {"field": "s", "type": "nominal", "scale": {"domain": ["a", "b", "c", "d", "e"], "range": ["#1f77b4", "#ff7f0e", "#2ca02c", "#d62728", "#a99dc9"]}, "legend": null}
      }
    },
    {
      "data": {"name": "lines"},
      "mark": {"type": "line", "strokeWidth": 2.2, "strokeJoin": "round"},
      "encoding": {
        "x": {"field": "d", "type": "quantitative", "scale": {"domain": [-55.7, 1257.7], "nice": false, "zero": false}, "axis": null},
        "y": {"field": "g", "type": "quantitative", "scale": {"domain": [-24.1, 41.9], "nice": false, "zero": false}, "axis": null},
        "color": {"field": "s", "type": "nominal", "scale": {"domain": ["a", "b", "c", "d", "e"], "range": ["#1f77b4", "#ff7f0e", "#2ca02c", "#d62728", "#a99dc9"]}, "legend": null}
      }
    },
    {
      "data": {"name": "spike"},
      "mark": {"type": "point", "shape": "triangle-down", "filled": true, "size": 160, "opacity": 1, "color": "#8c7bb5"},
      "encoding": {
        "x": {"field": "d", "type": "quantitative", "scale": {"domain": [-55.7, 1257.7], "nice": false, "zero": false},
              "axis": {"orient": "top", "title": "Patch Mountain Road — rolling window gradients", "labels": false, "ticks": false, "domain": false, "grid": false,
                       "titleFontSize": 25, "titlePadding": 13, "titleBaseline": "alphabetic"}},
        "y": {"field": "g", "type": "quantitative", "scale": {"domain": [-24.1, 41.9], "nice": false, "zero": false}, "axis": null}
      }
    }
  ]
}
